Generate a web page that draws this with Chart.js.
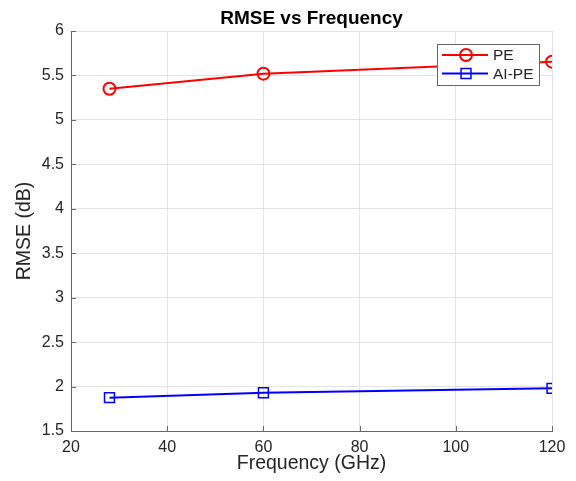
<!DOCTYPE html>
<html>
<head>
<meta charset="utf-8">
<script src="https://cdn.jsdelivr.net/npm/chart.js@4/dist/chart.umd.min.js"></script>
<style>
  html, body { margin: 0; padding: 0; background: #ffffff; }
  #wrap { width: 576px; height: 481px; position: relative; }
</style>
</head>
<body>
<div id="wrap"><canvas id="c" width="576" height="481"></canvas></div>
<script>
// ---- Data ----
const frequencies = [28, 60, 120];
const pe = [5.35, 5.52, 5.655];
const aiPe = [1.875, 1.93, 1.98];
const seriesNames = ['PE', 'AI-PE'];
const chartTitle = 'RMSE vs Frequency';
const xTitle = 'Frequency (GHz)';
const yTitle = 'RMSE (dB)';
const xTicks = [20, 40, 60, 80, 100, 120];
const yTicks = [1.5, 2, 2.5, 3, 3.5, 4, 4.5, 5, 5.5, 6];

const FONT = "'Liberation Sans', Arial, Helvetica, sans-serif";
const TXT = '#262626';
const AXIS = '#666666';

const axesTitle = {
  id: 'axesTitle',
  afterDraw(chart) {
    const ctx = chart.ctx;
    const a = chart.chartArea;
    ctx.save();
    ctx.fillStyle = '#000000';
    ctx.font = 'bold 19px ' + FONT;
    ctx.textAlign = 'center';
    ctx.textBaseline = 'middle';
    ctx.fillText(chartTitle, (a.left + a.right) / 2, 19);
    ctx.restore();
  }
};

const inwardTicks = {
  id: 'inwardTicks',
  afterDatasetsDraw(chart) {
    const ctx = chart.ctx;
    const xs = chart.scales.x, ys = chart.scales.y;
    const a = chart.chartArea;
    ctx.save();
    ctx.strokeStyle = AXIS;
    ctx.lineWidth = 1;
    ctx.beginPath();
    xTicks.forEach(v => {
      const px = Math.round(xs.getPixelForValue(v)) + 0.5;
      ctx.moveTo(px, a.bottom);
      ctx.lineTo(px, a.bottom - 5);
    });
    yTicks.forEach(v => {
      const py = Math.round(ys.getPixelForValue(v)) + 0.5;
      ctx.moveTo(a.left, py);
      ctx.lineTo(a.left + 5, py);
    });
    ctx.stroke();
    ctx.restore();
  }
};

const insideLegend = {
  id: 'insideLegend',
  afterDraw(chart) {
    const ctx = chart.ctx;
    const a = chart.chartArea;
    const w = 102, h = 41;
    const x0 = a.right - 13 - w, y0 = a.top + 13;
    ctx.save();
    ctx.fillStyle = '#ffffff';
    ctx.fillRect(x0, y0, w, h);
    ctx.strokeStyle = AXIS;
    ctx.lineWidth = 1;
    ctx.strokeRect(x0 + 0.5, y0 + 0.5, w, h);
    chart.data.datasets.forEach((ds, i) => {
      const cy = y0 + 11 + i * 18.5;
      ctx.strokeStyle = ds.borderColor;
      ctx.lineWidth = 2;
      ctx.beginPath();
      ctx.moveTo(x0 + 5, cy);
      ctx.lineTo(x0 + 51, cy);
      ctx.stroke();
      const mx = x0 + 29;
      ctx.lineWidth = ds.pointBorderWidth;
      ctx.beginPath();
      if (ds.pointStyle === 'circle') {
        ctx.arc(mx, cy, ds.pointRadius, 0, Math.PI * 2);
        ctx.stroke();
      } else {
        const s = Math.SQRT1_2 * ds.pointRadius;
        ctx.rect(mx - s, cy - s, 2 * s, 2 * s);
        ctx.stroke();
      }
      ctx.fillStyle = TXT;
      ctx.font = '15.5px ' + FONT;
      ctx.textBaseline = 'middle';
      ctx.textAlign = 'left';
      ctx.fillText(ds.label, x0 + 56, cy + 1);
    });
    ctx.restore();
  }
};

new Chart(document.getElementById('c'), {
  type: 'line',
  data: {
    datasets: [
      {
        label: seriesNames[0],
        data: frequencies.map((f, i) => ({ x: f, y: pe[i] })),
        borderColor: '#ff0000',
        backgroundColor: 'rgba(0,0,0,0)',
        borderWidth: 2,
        pointStyle: 'circle',
        pointRadius: 6,
        pointBorderWidth: 2,
        pointBackgroundColor: 'rgba(0,0,0,0)',
        pointBorderColor: '#ff0000',
        tension: 0
      },
      {
        label: seriesNames[1],
        data: frequencies.map((f, i) => ({ x: f, y: aiPe[i] })),
        borderColor: '#0000ff',
        backgroundColor: 'rgba(0,0,0,0)',
        borderWidth: 2,
        pointStyle: 'rect',
        pointRadius: 7,
        pointBorderWidth: 1.5,
        pointBackgroundColor: 'rgba(0,0,0,0)',
        pointBorderColor: '#0000ff',
        tension: 0
      }
    ]
  },
  options: {
    responsive: false,
    animation: false,
    devicePixelRatio: 1,
    layout: { padding: { left: 0, right: 24, top: 31, bottom: 0 } },
    plugins: {
      legend: { display: false },
      tooltip: { enabled: false },
      title: { display: false }
    },
    scales: {
      x: {
        type: 'linear',
        min: 20, max: 120,
        afterBuildTicks(scale) { scale.ticks = xTicks.map(v => ({ value: v })); },
        afterFit(scale) { scale.height = 50; },
        ticks: {
          color: TXT,
          font: { family: FONT, size: 16 },
          padding: 7,
          maxRotation: 0,
          callback: v => String(v)
        },
        grid: { color: '#e3e3e3', lineWidth: 1, drawTicks: false },
        border: { display: true, color: AXIS, width: 1 },
        title: {
          display: true,
          text: xTitle,
          color: TXT,
          font: { family: FONT, size: 19.5, lineHeight: 1.2 },
          padding: { top: 0, bottom: 6 }
        }
      },
      y: {
        type: 'linear',
        min: 1.5, max: 6,
        afterBuildTicks(scale) { scale.ticks = yTicks.map(v => ({ value: v })); },
        afterFit(scale) { scale.width = 71; },
        ticks: {
          color: TXT,
          font: { family: FONT, size: 16 },
          padding: 7,
          callback: v => String(v)
        },
        grid: { color: '#e3e3e3', lineWidth: 1, drawTicks: false },
        border: { display: true, color: AXIS, width: 1 },
        title: {
          display: true,
          text: yTitle,
          color: TXT,
          font: { family: FONT, size: 19.5, lineHeight: 1.2 },
          padding: { top: 13, bottom: 0 }
        }
      }
    }
  },
  plugins: [inwardTicks, insideLegend, axesTitle]
});
</script>
</body>
</html>
